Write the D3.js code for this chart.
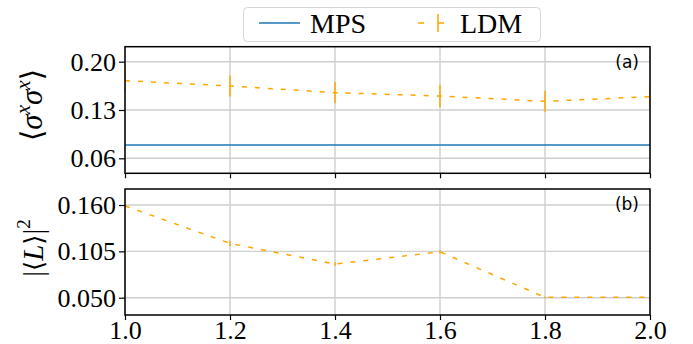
<!DOCTYPE html>
<html>
<head>
<meta charset="utf-8">
<script src="https://cdn.jsdelivr.net/npm/d3@7"></script>
<style>
    body { margin: 0; background: #fff; }
    svg { display: block; }
</style>
</head>
<body>
<div id="chart"></div>
<script>
// data
const hValues = [1.0, 1.2, 1.4, 1.6, 1.8, 2.0];
const mpsSxx = 0.0793;
const ldmSxx = [0.1725, 0.1648, 0.1551, 0.1503, 0.1426, 0.1493];
const ldmSxxErr = [0.015, 0.0152, 0.0155, 0.0164, 0.0152, 0.015];
const ldmL2 = [0.159, 0.1145, 0.090, 0.1045, 0.0505, 0.0505];
const ldmL2Err = [0.002, 0.003, 0.002, 0.002, 0.001, 0.001];
const xTicks = [1.0, 1.2, 1.4, 1.6, 1.8, 2.0];
const yTicksTop = [0.06, 0.13, 0.20];
const yTicksBottom = [0.050, 0.105, 0.160];

const width = 693, height = 344;
const left = 125, right = 650;
const topPanel = {y0: 46.7, y1: 173.3, domain: [0.0383, 0.2217]};
const bottomPanel = {y0: 189, y1: 315, domain: [0.0295, 0.179]};
const mpsColor = '#1f77b4', ldmColor = '#ffa500', gridColor = '#cfcfcf';
const serif = '"Liberation Serif", "DejaVu Serif", serif';

let svg = d3.select('#chart').append('svg')
    .attr('width', width)
    .attr('height', height);

let xScale = d3.scaleLinear().domain([1.0, 2.0]).range([left, right]);

function drawPanel(panel, id, yTicks, fmt, showXLabels) {
    let yScale = d3.scaleLinear().domain(panel.domain).range([panel.y1, panel.y0]);
    let g = svg.append('g').attr('class', 'panel-' + id);

    g.append('clipPath')
        .attr('id', 'clip-' + id)
        .append('rect')
        .attr('x', left).attr('y', panel.y0)
        .attr('width', right - left).attr('height', panel.y1 - panel.y0);

    // grid
    g.selectAll('line.vgrid').data(xTicks).enter().append('line')
        .attr('class', 'vgrid')
        .attr('x1', d => xScale(d)).attr('x2', d => xScale(d))
        .attr('y1', panel.y0).attr('y2', panel.y1)
        .attr('stroke', gridColor).attr('stroke-width', 1.4);
    g.selectAll('line.hgrid').data(yTicks).enter().append('line')
        .attr('class', 'hgrid')
        .attr('x1', left).attr('x2', right)
        .attr('y1', d => yScale(d)).attr('y2', d => yScale(d))
        .attr('stroke', gridColor).attr('stroke-width', 1.4);

    // axes
    let yAxis = d3.axisLeft(yScale)
        .tickValues(yTicks)
        .tickFormat(fmt)
        .tickSize(6)
        .tickPadding(3);
    let yAxisG = g.append('g')
        .attr('transform', 'translate(' + left + ',0)')
        .call(yAxis);
    let xAxis = d3.axisBottom(xScale)
        .tickValues(xTicks)
        .tickFormat(showXLabels ? d3.format('.1f') : () => '')
        .tickSize(5)
        .tickPadding(1);
    let xAxisG = g.append('g')
        .attr('transform', 'translate(0,' + panel.y1 + ')')
        .call(xAxis);
    [yAxisG, xAxisG].forEach(a => {
        a.attr('font-family', serif).attr('font-size', 26);
        a.select('.domain').remove();
        a.selectAll('.tick line').attr('stroke', '#000').attr('stroke-width', 1.2);
        a.selectAll('.tick text')
            .attr('fill', '#000')
            .attr('font-family', serif)
            .style('font-family', serif)
            .style('font-size', '26px');
    });

    return {g: g, yScale: yScale};
}

function frame(panel) {
    svg.append('rect')
        .attr('x', left).attr('y', panel.y0)
        .attr('width', right - left).attr('height', panel.y1 - panel.y0)
        .attr('fill', 'none')
        .attr('stroke', '#000')
        .attr('stroke-width', 1.5);
}

function drawLdm(p, id, values, errs) {
    let data = hValues.map((h, i) => ({h: h, v: values[i], e: errs[i]}));
    let plot = p.g.append('g').attr('clip-path', 'url(#clip-' + id + ')');
    let line = d3.line().x(d => xScale(d.h)).y(d => p.yScale(d.v));
    plot.append('path')
        .datum(data)
        .attr('d', line)
        .attr('fill', 'none')
        .attr('stroke', ldmColor)
        .attr('stroke-width', 1.5)
        .attr('stroke-dasharray', '5,8');
    plot.selectAll('line.err').data(data).enter().append('line')
        .attr('class', 'err')
        .attr('x1', d => xScale(d.h)).attr('x2', d => xScale(d.h))
        .attr('y1', d => p.yScale(d.v - d.e)).attr('y2', d => p.yScale(d.v + d.e))
        .attr('stroke', ldmColor)
        .attr('stroke-width', 1.5);
    return plot;
}

// (a) <sigma^x sigma^x>
let pa = drawPanel(topPanel, 'a', yTicksTop, d3.format('.2f'), false);
let plotA = drawLdm(pa, 'a', ldmSxx, ldmSxxErr);
plotA.append('line')
    .attr('x1', left).attr('x2', right)
    .attr('y1', pa.yScale(mpsSxx)).attr('y2', pa.yScale(mpsSxx))
    .attr('stroke', mpsColor)
    .attr('stroke-width', 1.5);
frame(topPanel);

// (b) |<L>|^2
let pb = drawPanel(bottomPanel, 'b', yTicksBottom, d3.format('.3f'), true);
drawLdm(pb, 'b', ldmL2, ldmL2Err);
frame(bottomPanel);

// panel tags
[['(a)', topPanel], ['(b)', bottomPanel]].forEach(t => {
    svg.append('text')
        .attr('x', right - 11)
        .attr('y', t[1].y0 + 21)
        .attr('text-anchor', 'end')
        .style('font-family', '"DejaVu Sans", sans-serif')
        .style('font-size', '17px')
        .text(t[0]);
});

// y labels
let yl1 = svg.append('text')
    .attr('transform', 'translate(42,105) rotate(-90)')
    .attr('text-anchor', 'middle')
    .style('font-family', serif)
    .style('font-size', '31px');
yl1.append('tspan').style('font-family', '"DejaVu Serif", serif').style('font-size', '30px').text('\u27E8');
yl1.append('tspan').style('font-style', 'italic').text('σ');
yl1.append('tspan').style('font-style', 'italic').style('font-size', '21px').attr('dy', -12).text('x');
yl1.append('tspan').style('font-style', 'italic').attr('dy', 12).text('σ');
yl1.append('tspan').style('font-style', 'italic').style('font-size', '21px').attr('dy', -12).text('x');
yl1.append('tspan').style('font-family', '"DejaVu Serif", serif').style('font-size', '30px').attr('dy', 12).text('\u27E9');

let yl2 = svg.append('text')
    .attr('transform', 'translate(43,248) rotate(-90)')
    .attr('text-anchor', 'middle')
    .style('font-family', serif)
    .style('font-size', '29px');
yl2.append('tspan').text('|');
yl2.append('tspan').style('font-family', '"DejaVu Serif", serif').style('font-size', '26px').text('\u27E8');
yl2.append('tspan').style('font-style', 'italic').text('L');
yl2.append('tspan').style('font-family', '"DejaVu Serif", serif').style('font-size', '26px').text('\u27E9');
yl2.append('tspan').text('|');
yl2.append('tspan').style('font-size', '19px').attr('dy', -13).text('2');

// legend
let legend = svg.append('g').attr('class', 'legend');
legend.append('rect')
    .attr('x', 243.5).attr('y', 7.5)
    .attr('width', 297).attr('height', 34)
    .attr('rx', 4)
    .attr('fill', '#fff').attr('fill-opacity', 0.8)
    .attr('stroke', '#d6d6d6').attr('stroke-width', 1);
legend.append('line')
    .attr('x1', 259).attr('x2', 300).attr('y1', 23).attr('y2', 23)
    .attr('stroke', mpsColor).attr('stroke-width', 1.5);
legend.append('text')
    .attr('x', 310).attr('y', 33)
    .style('font-family', serif).style('font-size', '28px')
    .text('MPS');
legend.append('line')
    .attr('x1', 418).attr('x2', 458).attr('y1', 23).attr('y2', 23)
    .attr('stroke', ldmColor).attr('stroke-width', 1.5)
    .attr('stroke-dasharray', '6,14');
legend.append('line')
    .attr('x1', 438).attr('x2', 438).attr('y1', 14).attr('y2', 32)
    .attr('stroke', ldmColor).attr('stroke-width', 1.5);
legend.append('text')
    .attr('x', 460).attr('y', 33)
    .style('font-family', serif).style('font-size', '28px')
    .text('LDM');
</script>
</body>
</html>
